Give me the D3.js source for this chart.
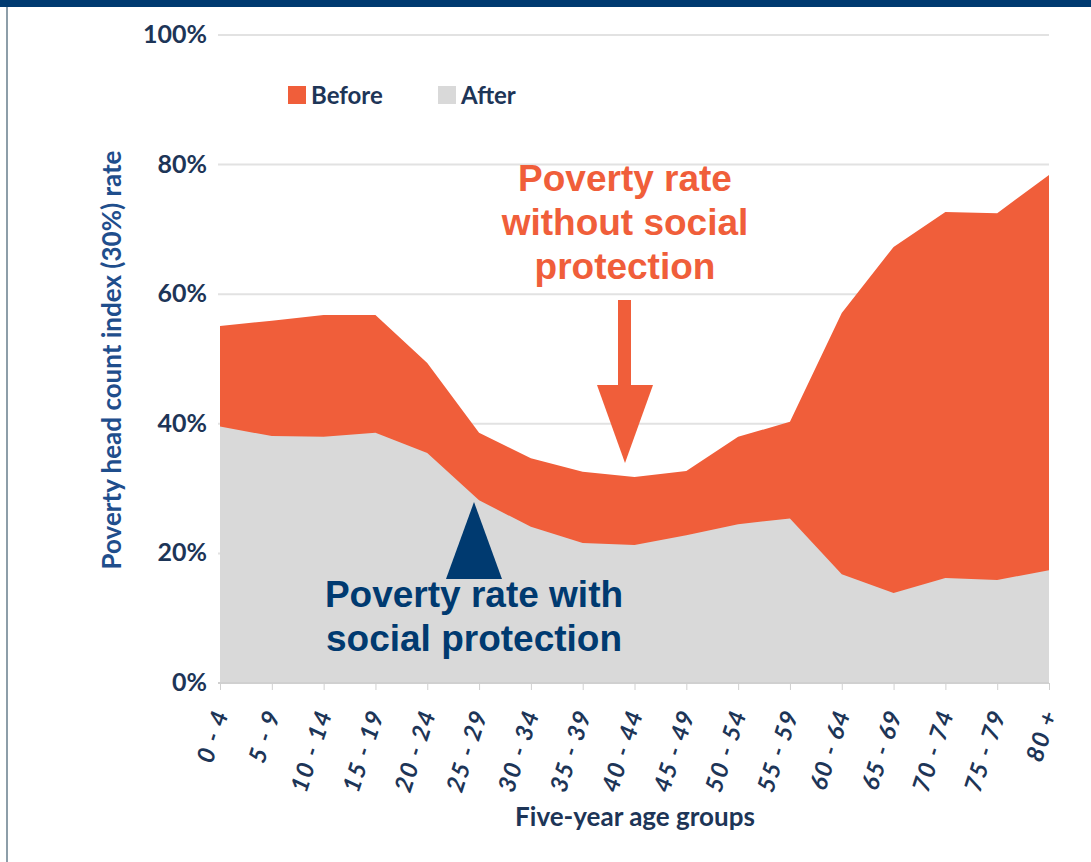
<!DOCTYPE html>
<html>
<head>
<meta charset="utf-8">
<script src="https://cdn.jsdelivr.net/npm/d3@7"></script>
<style>
  body { margin: 0; background: #fff; }
  svg { display: block; }
</style>
</head>
<body>
<div id="chart"></div>
<script>
const ageGroups = ["0 - 4", "5 - 9", "10 - 14", "15 - 19", "20 - 24", "25 - 29", "30 - 34", "35 - 39",
  "40 - 44", "45 - 49", "50 - 54", "55 - 59", "60 - 64", "65 - 69", "70 - 74", "75 - 79", "80 +"];
// poverty rate before transfers (%)
const beforeRate = [55.1, 55.9, 56.8, 56.8, 49.4, 38.6, 34.7, 32.6, 31.8, 32.7, 38.0, 40.3, 57.1, 67.3, 72.7, 72.5, 78.4];
// poverty rate after transfers (%)
const afterRate = [39.6, 38.1, 38.0, 38.6, 35.5, 28.2, 24.1, 21.6, 21.3, 22.8, 24.5, 25.4, 16.8, 13.9, 16.2, 15.9, 17.4];
const yTicks = [0, 20, 40, 60, 80, 100];

const W = 1091, H = 862;
const orange = "#f05e3a", grey = "#d9d9d9", navy = "#003a70", tickCol = "#1d3557";
const font = "Lato, Open Sans, sans-serif";

const svg = d3.select("#chart").append("svg")
  .attr("width", W).attr("height", H);

// frame
svg.append("rect").attr("x", 0).attr("y", 0).attr("width", W).attr("height", 7).attr("fill", navy);
svg.append("rect").attr("x", 6).attr("y", 7).attr("width", 2).attr("height", H - 7).attr("fill", "#8d9ea9");

const x = d3.scalePoint().domain(ageGroups).range([220, 1049]);
const y = d3.scaleLinear().domain([0, 100]).range([683, 35]);

// gridlines
svg.append("g").selectAll("line").data(yTicks.filter(d => d > 0)).join("line")
  .attr("x1", 218).attr("x2", 1049)
  .attr("y1", d => y(d)).attr("y2", d => y(d))
  .attr("stroke", "#e2e2e2").attr("stroke-width", 2);

const rows = ageGroups.map((g, i) => ({ g, before: beforeRate[i], after: afterRate[i] }));

svg.append("path").datum(rows)
  .attr("fill", orange)
  .attr("d", d3.area().x(d => x(d.g)).y0(y(0)).y1(d => y(d.before)));
svg.append("path").datum(rows)
  .attr("fill", grey)
  .attr("d", d3.area().x(d => x(d.g)).y0(y(0)).y1(d => y(d.after)));

// y axis labels
svg.append("g").selectAll("text").data(yTicks).join("text")
  .attr("x", 207).attr("y", d => y(d) + 8)
  .attr("text-anchor", "end")
  .attr("font-family", font).attr("font-weight", 700)
  .attr("font-size", 25).attr("fill", tickCol)
  .text(d => d + "%");

// x axis
const xAxis = svg.append("g").attr("transform", `translate(0,${y(0)})`)
  .call(d3.axisBottom(x).tickSize(7).tickFormat(""));
xAxis.select(".domain").attr("stroke", "#d0d0d0").attr("stroke-width", 2).attr("d", "M218,0H1049");
xAxis.selectAll(".tick line").attr("stroke", "#d0d0d0");

svg.append("g").selectAll("text").data(ageGroups).join("text")
  .attr("transform", d => `translate(${x(d) + 9},${y(0) + 30}) rotate(-72)`)
  .attr("text-anchor", "end")
  .attr("font-family", font).attr("font-style", "italic").attr("font-weight", 700)
  .attr("font-size", 24).attr("letter-spacing", 1.5).attr("fill", tickCol)
  .text(d => d);

svg.append("text")
  .attr("x", 635).attr("y", 826).attr("text-anchor", "middle")
  .attr("font-family", font).attr("font-weight", 700)
  .attr("font-size", 26).attr("fill", tickCol)
  .text("Five-year age groups");

svg.append("text")
  .attr("transform", "translate(121,360) rotate(-90)")
  .attr("text-anchor", "middle")
  .attr("font-family", font).attr("font-weight", 700)
  .attr("font-size", 26).attr("fill", "#1f4e8c")
  .text("Poverty head count index  (30%) rate");

// legend
const legend = [{ label: "Before", color: orange, x: 288 }, { label: "After", color: grey, x: 438 }];
const lg = svg.append("g").selectAll("g").data(legend).join("g")
  .attr("transform", d => `translate(${d.x},86)`);
lg.append("rect").attr("width", 18).attr("height", 18).attr("fill", d => d.color);
lg.append("text").attr("x", 23).attr("y", 18)
  .attr("font-family", font).attr("font-weight", 700)
  .attr("font-size", 24).attr("fill", tickCol)
  .text(d => d.label);

// annotations
const ann = svg.append("g").attr("font-family", "Liberation Sans, Arial, sans-serif")
  .attr("font-weight", 700).attr("font-size", 37).attr("text-anchor", "middle");
ann.append("text").attr("fill", orange).selectAll("tspan")
  .data(["Poverty rate", "without social", "protection"]).join("tspan")
  .attr("x", 625).attr("y", (d, i) => 191 + i * 44).text(d => d);
ann.append("text").attr("fill", navy).selectAll("tspan")
  .data(["Poverty rate with", "social protection"]).join("tspan")
  .attr("x", 474).attr("y", (d, i) => 607 + i * 44).text(d => d);

svg.append("rect").attr("x", 618).attr("y", 300).attr("width", 13).attr("height", 88).attr("fill", orange);
svg.append("path").attr("d", "M597,385L653,385L625,463Z").attr("fill", orange);
svg.append("path").attr("d", "M446,579L502,579L474,502Z").attr("fill", navy);
</script>
</body>
</html>
